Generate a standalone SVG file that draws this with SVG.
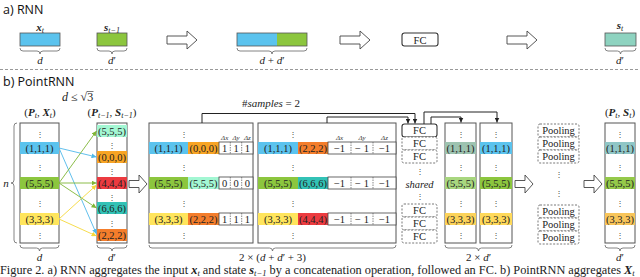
<svg xmlns="http://www.w3.org/2000/svg" width="640" height="277" viewBox="0 0 640 277">
<style>
 text{font-family:"Liberation Serif","DejaVu Serif",serif;fill:#222}
 .h{font-family:"Open Sans","Liberation Sans",sans-serif;font-size:12.5px;fill:#111}
 .c{font-size:10.5px;text-anchor:middle}
 .v{font-family:"DejaVu Serif",serif;font-size:8px;text-anchor:middle;fill:#444}
 .col{fill:#fff;stroke:#555;stroke-width:1}
 .br{fill:none;stroke:#666;stroke-width:0.8}
 .ha{fill:#fff;stroke:#444;stroke-width:0.9}
 .fc{fill:#fff;stroke:#333;stroke-width:1.1}
 .fcd{fill:#fff;stroke:#555;stroke-width:0.8;stroke-dasharray:2 1.5}
 .dl{stroke:#555;stroke-width:0.7;stroke-dasharray:1.5 1}
 .dc{fill:#fff;stroke:#444;stroke-width:0.8}
 .m{font-style:italic}
 .b{font-weight:bold;font-style:italic}
 .lab{font-size:11px;text-anchor:middle}
 .sm{font-size:7px;font-style:italic;text-anchor:middle;fill:#333}
 .ln{fill:none;stroke-width:0.9}
 .k{fill:none;stroke:#222;stroke-width:1}
 .sep{stroke:#999;stroke-width:1;stroke-dasharray:3 2}
</style>
<defs>
 <marker id="ab" viewBox="0 0 6 6" refX="6" refY="3" markerWidth="5" markerHeight="5" orient="auto" markerUnits="userSpaceOnUse"><path d="M0,0 L6,3 L0,6 Z" fill="#4fb8ea"/></marker>
 <marker id="ag" viewBox="0 0 6 6" refX="6" refY="3" markerWidth="5" markerHeight="5" orient="auto" markerUnits="userSpaceOnUse"><path d="M0,0 L6,3 L0,6 Z" fill="#7fb635"/></marker>
 <marker id="ay" viewBox="0 0 6 6" refX="6" refY="3" markerWidth="5" markerHeight="5" orient="auto" markerUnits="userSpaceOnUse"><path d="M0,0 L6,3 L0,6 Z" fill="#f5d83a"/></marker>
 <marker id="ak" viewBox="0 0 6 6" refX="6" refY="3" markerWidth="5" markerHeight="5" orient="auto" markerUnits="userSpaceOnUse"><path d="M0,0 L6,3 L0,6 Z" fill="#222"/></marker>
</defs>

<!-- Part a -->
<g id="a-title"><text class="h" x="3" y="14">a) RNN</text></g>
<g id="a-xt">
 <text class="lab" x="40" y="31"><tspan class="b">x</tspan><tspan class="m" font-size="8" dy="2">t</tspan></text>
 <rect x="20" y="33" width="40" height="13" fill="#5bc3ee" stroke="#555" stroke-width="0.8"/>
 <path class="br" d="M20 48 Q20 51 23 51 H37 Q40 51 40 54 Q40 51 43 51 H57 Q60 51 60 48"/>
 <text class="lab" x="40" y="64"><tspan class="m">d</tspan></text>
</g>
<g id="a-st1">
 <text class="lab" x="112" y="31"><tspan class="b">s</tspan><tspan class="m" font-size="8" dy="2">t−1</tspan></text>
 <rect x="97" y="33" width="30" height="13" fill="#8cc63e" stroke="#555" stroke-width="0.8"/>
 <path class="br" d="M97 48 Q97 51 100 51 H109 Q112 51 112 54 Q112 51 115 51 H124 Q127 51 127 48"/>
 <text class="lab" x="112" y="64"><tspan class="m">d</tspan>′</text>
</g>
<g id="a-arrow1"><path class="ha" d="M167 36 H187 V31 L197 40 L187 49 V44 H167 Z"/></g>
<g id="a-concat">
 <rect x="237" y="33" width="40" height="13" fill="#5bc3ee"/>
 <rect x="277" y="33" width="30" height="13" fill="#8cc63e"/>
 <rect x="237" y="33" width="70" height="13" fill="none" stroke="#555" stroke-width="0.8"/>
 <path class="br" d="M237 48 Q237 51 240 51 H269 Q272 51 272 54 Q272 51 275 51 H304 Q307 51 307 48"/>
 <text class="lab" x="272" y="64"><tspan class="m">d</tspan> + <tspan class="m">d</tspan>′</text>
</g>
<g id="a-arrow2"><path class="ha" d="M340 36 H360 V31 L370 40 L360 49 V44 H340 Z"/></g>
<g id="a-fc">
 <rect class="fc" x="402" y="33" width="36" height="13" rx="2.5"/>
 <text class="c" x="420" y="43.5" font-size="10">FC</text>
</g>
<g id="a-arrow3"><path class="ha" d="M507 36 H527 V31 L537 40 L527 49 V44 H507 Z"/></g>
<g id="a-st">
 <text class="lab" x="620" y="29"><tspan class="b">s</tspan><tspan class="m" font-size="8" dy="2">t</tspan></text>
 <rect x="605" y="33" width="31" height="13" fill="#8ed3c0" stroke="#555" stroke-width="0.8"/>
 <path class="br" d="M605 48 Q605 51 608 51 H617.5 Q620.5 51 620.5 54 Q620.5 51 623.5 51 H633 Q636 51 636 48"/>
 <text class="lab" x="620" y="64"><tspan class="m">d</tspan>′</text>
</g>
<line class="sep" x1="0" y1="69.5" x2="638" y2="69.5"/>

<!-- Part b -->
<g id="b-title"><text class="h" x="3" y="86">b) PointRNN</text></g>
<g id="b-radius">
 <text x="62" y="101" font-size="12"><tspan class="m">d</tspan> ≤ √3</text>
 <line x1="87" y1="91.5" x2="93.5" y2="91.5" stroke="#222" stroke-width="0.6"/>
</g>

<g id="col1">
 <text class="lab" x="40" y="116">(<tspan class="b">P</tspan><tspan class="m" font-size="8" dy="2">t</tspan><tspan dy="-2">, </tspan><tspan class="b">X</tspan><tspan class="m" font-size="8" dy="2">t</tspan><tspan dy="-2">)</tspan></text>
 <rect class="col" x="20" y="123" width="39" height="120"/>
 <text class="v" x="39.5" y="137">⋮</text>
 <rect x="20" y="142" width="39" height="12" fill="#5bc3ee"/>
 <text class="c" x="39.5" y="151.5">(1,1,1)</text>
 <text class="v" x="39.5" y="170">⋮</text>
 <rect x="20" y="177" width="39" height="12" fill="#8cc63e"/>
 <text class="c" x="39.5" y="186.5">(5,5,5)</text>
 <text class="v" x="39.5" y="206">⋮</text>
 <rect x="20" y="213" width="39" height="12" fill="#ffe55c"/>
 <text class="c" x="39.5" y="222.5">(3,3,3)</text>
 <text class="v" x="39.5" y="238">⋮</text>
 <path class="br" d="M17 123 Q14 123 14 126 V180 Q14 183 11 183 Q14 183 14 186 V240 Q14 243 17 243"/>
 <text class="lab" x="6" y="187"><tspan class="m">n</tspan></text>
 <path class="br" d="M20 245 Q20 248 23 248 H36.5 Q39.5 248 39.5 251 Q39.5 248 42.5 248 H56 Q59 248 59 245"/>
 <text class="lab" x="39.5" y="261"><tspan class="m">d</tspan></text>
</g>

<g id="col2">
 <text class="lab" x="112" y="116">(<tspan class="b">P</tspan><tspan class="m" font-size="8" dy="2">t−1</tspan><tspan dy="-2">, </tspan><tspan class="b">S</tspan><tspan class="m" font-size="8" dy="2">t−1</tspan><tspan dy="-2">)</tspan></text>
 <rect class="col" x="97" y="123" width="30" height="120"/>
 <rect x="97" y="125" width="30" height="12" fill="#a3f7d3"/>
 <text class="c" x="112" y="134.5">(5,5,5)</text>
 <text class="v" x="112" y="148">⋮</text>
 <rect x="97" y="151" width="30" height="12" fill="#f8a424"/>
 <text class="c" x="112" y="160.5">(0,0,0)</text>
 <text class="v" x="112" y="174">⋮</text>
 <rect x="97" y="177" width="30" height="12" fill="#ec3b40"/>
 <text class="c" x="112" y="186.5">(4,4,4)</text>
 <text class="v" x="112" y="200">⋮</text>
 <rect x="97" y="202" width="30" height="12" fill="#32c2b6"/>
 <text class="c" x="112" y="211.5">(6,6,6)</text>
 <text class="v" x="112" y="226">⋮</text>
 <rect x="97" y="229" width="30" height="12" fill="#f47d2b"/>
 <text class="c" x="112" y="238.5">(2,2,2)</text>
 <path class="br" d="M97 245 Q97 248 100 248 H109 Q112 248 112 251 Q112 248 115 248 H124 Q127 248 127 245"/>
 <text class="lab" x="112" y="261"><tspan class="m">d</tspan>′</text>
</g>

<g id="arrow-b1"><path class="ha" d="M129 180.5 H139 V175 L147 184 L139 193 V187.5 H129 Z"/></g>

<g id="col3">
 <rect class="col" x="149" y="123" width="104" height="120"/>
 <text class="v" x="184" y="137">⋮</text>
 <text class="sm" x="224.7" y="139.5">Δx</text><text class="sm" x="236" y="139.5">Δy</text><text class="sm" x="247.3" y="139.5">Δz</text>
 <rect x="149" y="142" width="39" height="12" fill="#5bc3ee"/><text class="c" x="168.5" y="151.5">(1,1,1)</text>
 <rect x="188" y="142" width="31" height="12" fill="#f8a424"/><text class="c" x="203.5" y="151.5">(0,0,0)</text>
 <rect class="dc" x="219" y="142" width="34" height="12"/>
 <line class="dl" x1="230.3" y1="142" x2="230.3" y2="154"/><line class="dl" x1="241.7" y1="142" x2="241.7" y2="154"/>
 <text class="c" x="224.7" y="151.5">1</text><text class="c" x="236" y="151.5">1</text><text class="c" x="247.3" y="151.5">1</text>
 <text class="v" x="184" y="170">⋮</text>
 <rect x="149" y="177" width="39" height="12" fill="#8cc63e"/><text class="c" x="168.5" y="186.5">(5,5,5)</text>
 <rect x="188" y="177" width="31" height="12" fill="#a3f7d3"/><text class="c" x="203.5" y="186.5">(5,5,5)</text>
 <rect class="dc" x="219" y="177" width="34" height="12"/>
 <line class="dl" x1="230.3" y1="177" x2="230.3" y2="189"/><line class="dl" x1="241.7" y1="177" x2="241.7" y2="189"/>
 <text class="c" x="224.7" y="186.5">0</text><text class="c" x="236" y="186.5">0</text><text class="c" x="247.3" y="186.5">0</text>
 <text class="v" x="184" y="206">⋮</text>
 <rect x="149" y="213" width="39" height="12" fill="#ffe55c"/><text class="c" x="168.5" y="222.5">(3,3,3)</text>
 <rect x="188" y="213" width="31" height="12" fill="#f47d2b"/><text class="c" x="203.5" y="222.5">(2,2,2)</text>
 <rect class="dc" x="219" y="213" width="34" height="12"/>
 <line class="dl" x1="230.3" y1="213" x2="230.3" y2="225"/><line class="dl" x1="241.7" y1="213" x2="241.7" y2="225"/>
 <text class="c" x="224.7" y="222.5">1</text><text class="c" x="236" y="222.5">1</text><text class="c" x="247.3" y="222.5">1</text>
 <text class="v" x="184" y="238">⋮</text>
</g>

<g id="col4">
 <rect class="col" x="258" y="123" width="138" height="120"/>
 <text class="v" x="293" y="137">⋮</text>
 <text class="sm" x="339.5" y="139.5">Δx</text><text class="sm" x="362" y="139.5">Δy</text><text class="sm" x="384.5" y="139.5">Δz</text>
 <rect x="258" y="142" width="40" height="12" fill="#5bc3ee"/><text class="c" x="278" y="151.5">(1,1,1)</text>
 <rect x="298" y="142" width="30" height="12" fill="#f47d2b"/><text class="c" x="313" y="151.5">(2,2,2)</text>
 <rect class="dc" x="328" y="142" width="68" height="12"/>
 <line class="dl" x1="351" y1="142" x2="351" y2="154"/><line class="dl" x1="373" y1="142" x2="373" y2="154"/>
 <text class="c" x="339.5" y="151.5">−1</text><text class="c" x="362" y="151.5">− 1</text><text class="c" x="384.5" y="151.5">−1</text>
 <text class="v" x="293" y="170">⋮</text>
 <rect x="258" y="177" width="40" height="12" fill="#8cc63e"/><text class="c" x="278" y="186.5">(5,5,5)</text>
 <rect x="298" y="177" width="30" height="12" fill="#32c2b6"/><text class="c" x="313" y="186.5">(6,6,6)</text>
 <rect class="dc" x="328" y="177" width="68" height="12"/>
 <line class="dl" x1="351" y1="177" x2="351" y2="189"/><line class="dl" x1="373" y1="177" x2="373" y2="189"/>
 <text class="c" x="339.5" y="186.5">−1</text><text class="c" x="362" y="186.5">− 1</text><text class="c" x="384.5" y="186.5">−1</text>
 <text class="v" x="293" y="206">⋮</text>
 <rect x="258" y="213" width="40" height="12" fill="#ffe55c"/><text class="c" x="278" y="222.5">(3,3,3)</text>
 <rect x="298" y="213" width="30" height="12" fill="#ec3b40"/><text class="c" x="313" y="222.5">(4,4,4)</text>
 <rect class="dc" x="328" y="213" width="68" height="12"/>
 <line class="dl" x1="351" y1="213" x2="351" y2="225"/><line class="dl" x1="373" y1="213" x2="373" y2="225"/>
 <text class="c" x="339.5" y="222.5">−1</text><text class="c" x="362" y="222.5">− 1</text><text class="c" x="384.5" y="222.5">−1</text>
 <text class="v" x="293" y="238">⋮</text>
 <path class="br" d="M149 245 Q149 248 152 248 H269.5 Q272.5 248 272.5 251 Q272.5 248 275.5 248 H393 Q396 248 396 245"/>
 <text class="lab" x="272.5" y="261">2 × (<tspan class="m">d</tspan> + <tspan class="m">d</tspan>′ + 3)</text>
</g>

<g id="samples-label"><text class="lab" x="271" y="107">#<tspan class="m">samples</tspan> = 2</text></g>

<g id="fc-stack">
 <rect class="fc" x="402" y="124" width="35" height="13" rx="2.5"/>
 <text class="c" x="419.5" y="134" font-size="10">FC</text>
 <rect class="fcd" x="402" y="137" width="35" height="13" rx="2"/>
 <text class="c" x="419.5" y="147" font-size="10">FC</text>
 <rect class="fcd" x="402" y="150" width="35" height="13" rx="2"/>
 <text class="c" x="419.5" y="160" font-size="10">FC</text>
 <text class="v" x="419.5" y="174">⋮</text>
 <text class="c m" x="419.5" y="187.5" font-size="10">shared</text>
 <text class="v" x="419.5" y="199">⋮</text>
 <rect class="fcd" x="402" y="204" width="35" height="13" rx="2"/>
 <text class="c" x="419.5" y="214" font-size="10">FC</text>
 <rect class="fcd" x="402" y="217" width="35" height="13" rx="2"/>
 <text class="c" x="419.5" y="227" font-size="10">FC</text>
 <rect class="fcd" x="402" y="230" width="35" height="13" rx="2"/>
 <text class="c" x="419.5" y="240" font-size="10">FC</text>
</g>

<g id="colA">
 <rect class="col" x="445" y="123" width="31" height="120"/>
 <text class="v" x="460.5" y="137">⋮</text>
 <rect x="445" y="142" width="31" height="12" fill="#9dc3b0"/><text class="c" x="460.5" y="151.5">(1,1,1)</text>
 <text class="v" x="460.5" y="170">⋮</text>
 <rect x="445" y="177" width="31" height="12" fill="#a8d67f"/><text class="c" x="460.5" y="186.5">(5,5,5)</text>
 <text class="v" x="460.5" y="206">⋮</text>
 <rect x="445" y="213" width="31" height="12" fill="#fcd35a"/><text class="c" x="460.5" y="222.5">(3,3,3)</text>
 <text class="v" x="460.5" y="238">⋮</text>
</g>
<g id="colB">
 <rect class="col" x="480" y="123" width="32" height="120"/>
 <text class="v" x="496" y="137">⋮</text>
 <rect x="480" y="142" width="32" height="12" fill="#5bc3ee"/><text class="c" x="496" y="151.5">(1,1,1)</text>
 <text class="v" x="496" y="170">⋮</text>
 <rect x="480" y="177" width="32" height="12" fill="#8cc63e"/><text class="c" x="496" y="186.5">(5,5,5)</text>
 <text class="v" x="496" y="206">⋮</text>
 <rect x="480" y="213" width="32" height="12" fill="#ffd95a"/><text class="c" x="496" y="222.5">(3,3,3)</text>
 <text class="v" x="496" y="238">⋮</text>
 <path class="br" d="M445 245 Q445 248 448 248 H475.5 Q478.5 248 478.5 251 Q478.5 248 481.5 248 H509 Q512 248 512 245"/>
 <text class="lab" x="478.5" y="261">2 × <tspan class="m">d</tspan>′</text>
</g>

<g id="arrow-b2"><path class="ha" d="M515 180.5 H525 V175 L533 184 L525 193 V187.5 H515 Z"/></g>

<g id="pooling">
 <rect class="fcd" x="538" y="124" width="41" height="13" rx="2"/><text class="c" x="558.5" y="134" font-size="10">Pooling</text>
 <rect class="fcd" x="538" y="137" width="41" height="13" rx="2"/><text class="c" x="558.5" y="147" font-size="10">Pooling</text>
 <rect class="fcd" x="538" y="150" width="41" height="13" rx="2"/><text class="c" x="558.5" y="160" font-size="10">Pooling</text>
 <text class="v" x="558.5" y="177">⋮</text>
 <text class="v" x="558.5" y="196">⋮</text>
 <rect class="fcd" x="538" y="205" width="41" height="13" rx="2"/><text class="c" x="558.5" y="215" font-size="10">Pooling</text>
 <rect class="fcd" x="538" y="218" width="41" height="13" rx="2"/><text class="c" x="558.5" y="228" font-size="10">Pooling</text>
 <rect class="fcd" x="538" y="231" width="41" height="13" rx="2"/><text class="c" x="558.5" y="241" font-size="10">Pooling</text>
</g>

<g id="arrow-b3"><path class="ha" d="M584 180.5 H594 V175 L602 184 L594 193 V187.5 H584 Z"/></g>

<g id="colOut">
 <text class="lab" x="620" y="116">(<tspan class="b">P</tspan><tspan class="m" font-size="8" dy="2">t</tspan><tspan dy="-2">, </tspan><tspan class="b">S</tspan><tspan class="m" font-size="8" dy="2">t</tspan><tspan dy="-2">)</tspan></text>
 <rect class="col" x="605" y="123" width="30" height="120"/>
 <text class="v" x="620" y="137">⋮</text>
 <rect x="605" y="142" width="30" height="12" fill="#8fc6c6"/><text class="c" x="620" y="151.5">(1,1,1)</text>
 <text class="v" x="620" y="170">⋮</text>
 <rect x="605" y="177" width="30" height="12" fill="#95c94a"/><text class="c" x="620" y="186.5">(5,5,5)</text>
 <text class="v" x="620" y="206">⋮</text>
 <rect x="605" y="213" width="30" height="12" fill="#f8c55a"/><text class="c" x="620" y="222.5">(3,3,3)</text>
 <text class="v" x="620" y="238">⋮</text>
 <path class="br" d="M605 245 Q605 248 608 248 H617 Q620 248 620 251 Q620 248 623 248 H632 Q635 248 635 245"/>
 <text class="lab" x="620" y="261"><tspan class="m">d</tspan>′</text>
</g>

<g id="connectors">
 <line class="ln" stroke="#4fb8ea" x1="59" y1="148" x2="96.5" y2="157" marker-end="url(#ab)"/>
 <line class="ln" stroke="#4fb8ea" x1="59" y1="148" x2="96.5" y2="234" marker-end="url(#ab)"/>
 <line class="ln" stroke="#7fb635" x1="59" y1="183" x2="96.5" y2="131" marker-end="url(#ag)"/>
 <line class="ln" stroke="#7fb635" x1="59" y1="183" x2="96.5" y2="183" marker-end="url(#ag)"/>
 <line class="ln" stroke="#7fb635" x1="59" y1="183" x2="96.5" y2="208" marker-end="url(#ag)"/>
 <line class="ln" stroke="#f5d83a" x1="59" y1="219" x2="96.5" y2="185" marker-end="url(#ay)"/>
 <line class="ln" stroke="#f5d83a" x1="59" y1="219" x2="96.5" y2="236" marker-end="url(#ay)"/>
 <path class="k" d="M202 123 V113.5 H415 V123.5" marker-end="url(#ak)"/>
 <path class="k" d="M327 123 V117 H408 V123.5" marker-end="url(#ak)"/>
 <path class="k" d="M424 124 V112 H497 V122.5" marker-end="url(#ak)"/>
 <path class="k" d="M431 124 V117 H461 V122.5" marker-end="url(#ak)"/>
</g>

<g id="caption">
 <text x="0" y="274" font-size="12.3">Figure 2. a) RNN aggregates the input <tspan class="b">x</tspan><tspan class="m" font-size="8.5" dy="2">t</tspan><tspan dy="-2"> and state </tspan><tspan class="b">s</tspan><tspan class="m" font-size="8.5" dy="2">t−1</tspan><tspan dy="-2"> by a concatenation operation, followed an FC. b) PointRNN aggregates </tspan><tspan class="b">X</tspan><tspan class="m" font-size="8.5" dy="2">t</tspan></text>
</g>
</svg>
